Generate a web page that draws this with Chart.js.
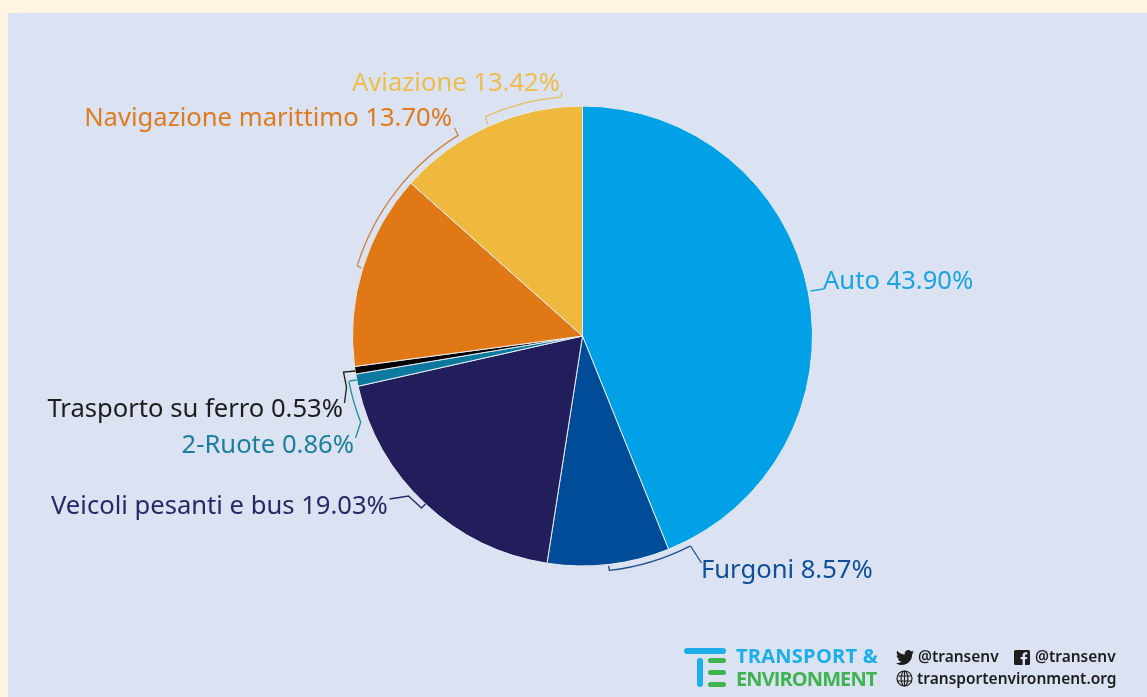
<!DOCTYPE html>
<html>
<head>
<meta charset="utf-8">
<title>Emissioni trasporti</title>
<script src="https://cdn.jsdelivr.net/npm/chart.js@4"></script>
<style>
  html, body { margin: 0; padding: 0; width: 1147px; height: 697px; overflow: hidden; background: #FFF5E1; }
  #panel { position: absolute; left: 8px; top: 13px; right: 0; bottom: 0; background: #DBE2F1; }
  #wrap { position: absolute; left: 0; top: 0; width: 1147px; height: 697px; }
  .bar { position: absolute; border-radius: 3px; }
  .txt { position: absolute; white-space: nowrap; line-height: 1; font-family: 'Open Sans', sans-serif; }
  .logo { font-weight: 700; font-size: 20px; }
  .soc { font-family: 'Noto Sans', sans-serif; font-weight: 600; font-size: 15.5px; color: #1d1d1f; }
  svg { position: absolute; }
</style>
</head>
<body>
<div id="panel"></div>
<div id="wrap"><canvas id="chart-torta" width="1147" height="697"></canvas></div>

<!-- logo e contatti -->
<div class="bar" style="left:684px;top:648px;width:42px;height:6px;background:#1BAEEA"></div>
<div class="bar" style="left:697px;top:658px;width:6px;height:29px;background:#1BAEEA"></div>
<div class="bar" style="left:708px;top:658px;width:18px;height:5px;background:#3FB34F"></div>
<div class="bar" style="left:708px;top:670px;width:18px;height:5px;background:#3FB34F"></div>
<div class="bar" style="left:708px;top:682px;width:18px;height:5px;background:#3FB34F"></div>
<div class="txt logo" style="left:736px;top:646px;color:#1BAEEA;letter-spacing:0.25px">TRANSPORT &amp;</div>
<div class="txt logo" style="left:736px;top:669px;color:#3FB34F;letter-spacing:-0.9px">ENVIRONMENT</div>
<svg style="left:896px;top:650px" width="18" height="15" viewBox="0 0 18 15"><path fill="#1d1d1f" d="M18 2c-.7.3-1.400.5-2.100.6.800-.5 1.300-1.200 1.600-2-.7.4-1.500.7-2.300.9C14.500.6 13.500 0 12.400 0c-2 0-3.700 1.700-3.700 3.700 0 .3 0 .6.100.8C5.700 4.400 3 2.900 1.200.7.900 1.300.7 1.900.7 2.600c0 1.300.7 2.400 1.600 3.100-.6 0-1.200-.2-1.700-.5 0 1.800 1.300 3.300 3 3.700-.6.200-1.100.2-1.700.1.500 1.500 1.800 2.500 3.400 2.600C3.800 12.800 1.900 13.400 0 13.200 1.600 14.300 3.600 15 5.700 15c6.800 0 10.500-5.600 10.500-10.500v-.5C16.900 3.500 17.500 2.800 18 2z"/></svg>
<div class="txt soc" style="left:918px;top:649px">@transenv</div>
<svg style="left:1014px;top:650px" width="16" height="15" viewBox="0 0 16 15"><rect width="16" height="15" rx="1.500" fill="#1d1d1f"/><path fill="#DBE2F1" d="M11 15V9.300h2l.3-2.300H11V5.600c0-.7.200-1.100 1.100-1.100h1.300V2.400c-.2 0-1-.1-1.800-.1-1.800 0-3 1.100-3 3.100V7H6.600v2.300h2V15z"/></svg>
<div class="txt soc" style="left:1035px;top:649px">@transenv</div>
<svg style="left:896px;top:670px" width="17" height="17" viewBox="0 0 17 17" fill="none" stroke="#1d1d1f" stroke-width="1.200"><circle cx="8.500" cy="8.500" r="7.500"/><ellipse cx="8.500" cy="8.500" rx="3.400" ry="7.500"/><path d="M1.500 6h14M1.500 11h14M8.500 1v15"/></svg>
<div class="txt soc" style="left:917px;top:671px">transportenvironment.org</div>

<script>
// Dati
const categorie = ['Auto', 'Furgoni', 'Veicoli pesanti e bus', '2-Ruote', 'Trasporto su ferro', 'Navigazione marittimo', 'Aviazione'];
const quote     = [43.90, 8.57, 19.03, 0.86, 0.53, 13.70, 13.42];
const colori    = ['#00A1E6', '#004C99', '#221E5C', '#0B7A9E', '#000000', '#E07815', '#EEB93C'];

// ── ETICHETTE ──
// posizione del testo: x, y (centro riga), allineamento, colore
const etichette = [
  { x: 823, y: 282, align: 'left',  color: '#1BA3E2' },
  { x: 701, y: 571, align: 'left',  color: '#0E4F98' },
  { x: 51,  y: 507, align: 'left',  color: '#2A2766' },
  { x: 354, y: 446, align: 'right', color: '#1C7F9E' },
  { x: 343, y: 410, align: 'right', color: '#1c1c1c' },
  { x: 452, y: 119, align: 'right', color: '#DF7B1E' },
  { x: 560, y: 84,  align: 'right', color: '#EDBE4C' },
];

// Linee guida, relative al centro della torta
const guide = [
  { color: '#1BA3E2', tratti: [[[228, -45], [241, -47]]] },
  { color: '#1F4F8F', tratti: [[[26, 230], [27, 235]], [[108, 210], [119, 227]]], arco: [236, [27, 235], [108, 210]] },
  { color: '#2A2766', tratti: [[[-193, 163], [-174, 160], [-161, 172], [-157, 168]]] },
  { color: '#1C8C9E', tratti: [[[-226, 44], [-233, 45]], [[-222, 87], [-227, 102]]], arco: [238, [-233, 45], [-222, 87]] },
  { color: '#1c1c1c', tratti: [[[-227, 35], [-239, 36], [-236, 51], [-238, 67]]] },
  { color: '#C98342', tratti: [[[-128, -208], [-124, -200]], [[-225, -70], [-221, -68]]], arco: [236, [-124, -200], [-225, -70]] },
  { color: '#E5C15E', tratti: [[[-21, -244], [-21, -240]], [[-97, -219], [-95, -212]]], arco: [240, [-21, -240], [-97, -219]] },
];

const pluginEtichette = {
  id: 'etichette',
  afterDatasetsDraw(chart) {
    const { ctx } = chart;
    const arc0 = chart.getDatasetMeta(0).data[0];
    const cx = arc0.x, cy = arc0.y;
    ctx.save();
    ctx.lineWidth = 1.3;
    guide.forEach(g => {
      ctx.strokeStyle = g.color;
      g.tratti.forEach(t => {
        ctx.beginPath();
        t.forEach((p, i) => i ? ctx.lineTo(cx + p[0], cy + p[1]) : ctx.moveTo(cx + p[0], cy + p[1]));
        ctx.stroke();
      });
      if (g.arco) {
        // gli archi vanno tutti in senso antiorario
        const [r, a, b] = g.arco;
        ctx.beginPath();
        ctx.arc(cx, cy, r, Math.atan2(a[1], a[0]), Math.atan2(b[1], b[0]), true);
        ctx.stroke();
      }
    });
    ctx.font = "25.6px 'Noto Sans', sans-serif";
    ctx.textBaseline = 'middle';
    etichette.forEach((e, i) => {
      ctx.fillStyle = e.color;
      ctx.textAlign = e.align;
      ctx.fillText(`${categorie[i]} ${quote[i].toFixed(2)}%`, e.x, e.y);
    });
    ctx.restore();
  }
};

new Chart(document.getElementById('chart-torta').getContext('2d'), {
  type: 'pie',
  data: {
    labels: categorie,
    datasets: [{
      data: quote,
      backgroundColor: colori,
      borderColor: '#E6EAF2',
      borderWidth: 1,
    }]
  },
  options: {
    responsive: false,
    animation: false,
    layout: { padding: { left: 352, right: 334, top: 105, bottom: 130 } },
    plugins: { legend: { display: false }, tooltip: { enabled: false } }
  },
  plugins: [pluginEtichette]
});
</script>
</body>
</html>
